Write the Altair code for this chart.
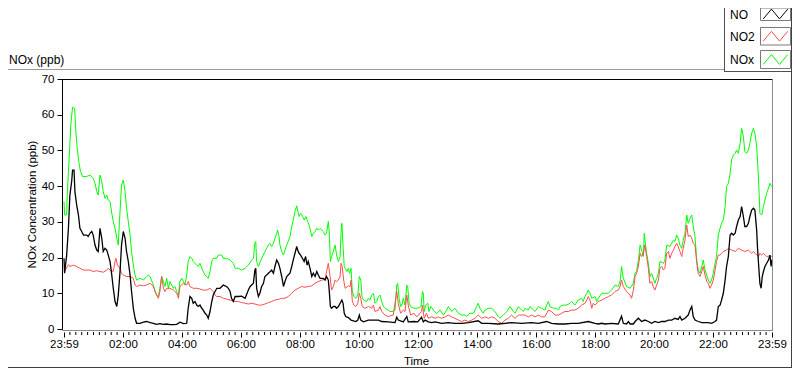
import altair as alt
import pandas as pd

# ---------------- data (hours after the 23:59 start, ppb) ----------------
series_names = ["NO", "NO2", "NOx"]
series_colors = ["#000000", "#ff4d4d", "#00ff00"]

no_pts = [
    (0.00, 19.8), (0.02, 15.6), (0.09, 20.7), (0.15, 28.2), (0.20, 37.5), (0.26, 41.3), (0.29, 44.5),
    (0.34, 44.5), (0.37, 38.5), (0.43, 34.7), (0.49, 31.9), (0.54, 28.2), (0.60, 27.3), (0.66, 26.3),
    (0.77, 26.3), (0.82, 25.9), (0.88, 26.8), (0.94, 27.3), (0.99, 26.3), (1.05, 23.5), (1.11, 22.1),
    (1.16, 21.7), (1.22, 28.2), (1.28, 25.4), (1.33, 21.7), (1.39, 22.6), (1.45, 22.1), (1.50, 20.7),
    (1.56, 18.9), (1.62, 15.1), (1.67, 11.4), (1.73, 7.7), (1.79, 6.3), (1.84, 9.5), (1.90, 16.1),
    (1.95, 23.5), (2.01, 27.3), (2.07, 25.4), (2.12, 21.7), (2.18, 18.9), (2.24, 15.1), (2.29, 10.5),
    (2.35, 5.8), (2.41, 3.0), (2.46, 1.6), (2.58, 1.6), (2.69, 1.9), (2.80, 2.1), (2.92, 1.8),
    (3.03, 1.6), (3.14, 1.3), (3.25, 1.5), (3.37, 1.3), (3.48, 1.4), (3.59, 1.2), (3.71, 1.2),
    (3.82, 1.3), (3.93, 1.9), (4.05, 1.5), (4.16, 1.6), (4.21, 5.8), (4.27, 9.1), (4.33, 8.6),
    (4.38, 7.2), (4.44, 7.7), (4.50, 6.7), (4.55, 6.3), (4.61, 6.7), (4.67, 5.8), (4.72, 5.3),
    (4.78, 4.4), (4.84, 3.9), (4.89, 3.0), (4.95, 4.9), (5.01, 7.7), (5.06, 9.5), (5.12, 10.5),
    (5.18, 11.4), (5.29, 11.4), (5.40, 12.3), (5.51, 11.9), (5.57, 11.4), (5.63, 10.5), (5.68, 8.6),
    (5.74, 7.7), (5.80, 9.1), (5.91, 9.1), (6.02, 9.2), (6.14, 8.6), (6.25, 10.9), (6.31, 11.9),
    (6.42, 12.8), (6.47, 16.5), (6.50, 17.0), (6.53, 11.4), (6.59, 9.1), (6.64, 10.0), (6.70, 11.9),
    (6.76, 12.8), (6.81, 14.7), (6.87, 15.1), (6.93, 15.6), (7.04, 16.5), (7.10, 15.6), (7.15, 17.5),
    (7.21, 19.3), (7.27, 18.4), (7.32, 17.0), (7.38, 14.7), (7.44, 11.9), (7.49, 13.3), (7.55, 14.7),
    (7.60, 15.1), (7.66, 15.6), (7.72, 17.5), (7.77, 19.3), (7.83, 21.2), (7.89, 23.1), (7.92, 22.1),
    (7.97, 21.2), (8.02, 20.7), (8.08, 19.8), (8.14, 18.9), (8.19, 20.3), (8.24, 17.9), (8.28, 18.9),
    (8.34, 17.0), (8.40, 14.7), (8.45, 15.6), (8.51, 14.7), (8.57, 16.1), (8.62, 15.1), (8.68, 14.2),
    (8.79, 14.2), (8.85, 13.7), (8.90, 14.7), (8.96, 13.7), (8.99, 10.9), (9.03, 6.3), (9.07, 5.8),
    (9.13, 6.3), (9.19, 6.3), (9.24, 5.8), (9.30, 6.3), (9.36, 7.2), (9.42, 8.1), (9.46, 7.2),
    (9.50, 4.4), (9.55, 3.5), (9.64, 3.2), (9.73, 2.5), (9.89, 2.1), (9.96, 2.5), (10.01, 3.9),
    (10.06, 2.5), (10.15, 2.0), (10.32, 2.5), (10.49, 2.5), (10.66, 2.5), (10.77, 2.1), (10.99, 2.0),
    (11.22, 1.8), (11.28, 3.3), (11.33, 2.5), (11.50, 2.0), (11.62, 3.5), (11.67, 2.0), (11.86, 2.1),
    (11.99, 2.0), (12.12, 3.3), (12.18, 2.0), (12.24, 2.5), (12.35, 2.0), (12.46, 1.8), (12.58, 2.0),
    (12.69, 1.8), (12.80, 1.6), (13.03, 1.8), (13.25, 1.6), (13.48, 1.6), (13.71, 1.8), (14.04, 2.3),
    (14.16, 1.6), (14.38, 1.6), (14.72, 1.4), (14.95, 1.6), (15.17, 1.8), (15.51, 1.6), (15.85, 1.8),
    (16.08, 1.6), (16.36, 2.1), (16.53, 1.6), (16.76, 1.4), (16.98, 1.4), (17.21, 1.6), (17.43, 1.6),
    (17.77, 2.1), (18.00, 1.6), (18.11, 1.4), (18.23, 1.6), (18.34, 1.4), (18.56, 1.6), (18.79, 1.4),
    (18.90, 3.6), (18.96, 1.6), (19.07, 1.4), (19.13, 2.1), (19.19, 1.4), (19.30, 1.4), (19.36, 2.1),
    (19.47, 3.0), (19.53, 2.5), (19.58, 2.1), (19.69, 2.5), (19.81, 2.1), (19.92, 1.6), (20.03, 2.1),
    (20.15, 1.8), (20.26, 2.1), (20.37, 2.1), (20.49, 2.5), (20.60, 2.5), (20.71, 3.0), (20.82, 2.7),
    (20.88, 3.5), (20.94, 2.5), (21.05, 3.0), (21.16, 3.9), (21.22, 5.3), (21.28, 6.3), (21.33, 3.5),
    (21.39, 2.5), (21.50, 2.1), (21.62, 1.8), (21.84, 1.8), (21.95, 1.6), (22.07, 2.1), (22.12, 2.5),
    (22.18, 6.3), (22.24, 6.7), (22.29, 8.1), (22.35, 10.0), (22.41, 13.7), (22.46, 17.5), (22.52, 20.3),
    (22.58, 26.3), (22.63, 26.8), (22.69, 26.3), (22.75, 26.8), (22.80, 28.7), (22.86, 30.5), (22.92, 31.5),
    (22.97, 34.3), (23.03, 31.5), (23.08, 28.7), (23.14, 28.7), (23.20, 29.6), (23.25, 31.5), (23.31, 33.3),
    (23.37, 33.8), (23.42, 33.3), (23.48, 27.7), (23.51, 22.6), (23.55, 17.5), (23.59, 12.8), (23.63, 11.4),
    (23.67, 14.7), (23.71, 16.1), (23.76, 17.5), (23.82, 18.4), (23.88, 19.3), (23.93, 20.7), (23.97, 17.5),
    (23.99, 19.4),
]

no2_pts = [
    (0.00, 16.1), (0.03, 16.3), (0.15, 18.0), (0.20, 17.5), (0.32, 17.9), (0.43, 17.5), (0.54, 17.0),
    (0.66, 16.5), (0.77, 16.5), (0.88, 16.5), (0.99, 16.1), (1.11, 16.3), (1.22, 16.1), (1.33, 15.9),
    (1.45, 16.5), (1.50, 17.0), (1.56, 16.5), (1.67, 16.1), (1.73, 18.9), (1.76, 19.8), (1.81, 17.9),
    (1.90, 17.0), (1.95, 15.6), (2.01, 15.1), (2.12, 14.7), (2.24, 14.7), (2.35, 14.2), (2.41, 12.3),
    (2.46, 11.9), (2.58, 12.3), (2.69, 12.1), (2.80, 12.3), (2.92, 12.8), (3.03, 11.9), (3.14, 9.5),
    (3.20, 8.6), (3.25, 10.5), (3.31, 14.7), (3.37, 11.4), (3.42, 10.5), (3.48, 11.4), (3.59, 11.4),
    (3.71, 10.9), (3.82, 10.0), (3.88, 8.6), (3.93, 11.9), (4.05, 12.8), (4.16, 12.3), (4.21, 13.3),
    (4.27, 11.9), (4.38, 11.4), (4.50, 11.4), (4.61, 11.2), (4.72, 10.9), (4.84, 10.9), (4.95, 11.4),
    (5.06, 10.5), (5.12, 9.5), (5.18, 9.1), (5.29, 9.1), (5.40, 8.6), (5.51, 8.4), (5.63, 8.1),
    (5.74, 7.8), (5.80, 7.7), (5.91, 7.7), (6.02, 7.4), (6.14, 7.2), (6.25, 7.0), (6.36, 7.2),
    (6.47, 7.0), (6.59, 6.7), (6.70, 6.7), (6.81, 7.0), (6.93, 7.4), (7.04, 7.7), (7.15, 8.1),
    (7.27, 8.3), (7.38, 8.6), (7.49, 8.6), (7.60, 9.1), (7.72, 10.0), (7.83, 10.9), (7.94, 11.4),
    (8.06, 11.9), (8.17, 11.7), (8.28, 11.9), (8.40, 12.1), (8.51, 12.8), (8.62, 13.3), (8.74, 13.7),
    (8.85, 13.9), (8.90, 16.1), (8.96, 18.4), (9.02, 14.7), (9.07, 10.9), (9.13, 11.9), (9.19, 13.7),
    (9.24, 13.3), (9.30, 13.7), (9.36, 14.7), (9.39, 18.4), (9.43, 17.5), (9.48, 13.7), (9.53, 11.4),
    (9.64, 12.1), (9.70, 11.9), (9.73, 13.7), (9.77, 8.1), (9.82, 6.7), (9.89, 6.3), (9.96, 7.2),
    (10.01, 10.0), (10.06, 8.6), (10.11, 6.3), (10.20, 5.8), (10.32, 6.3), (10.43, 5.8), (10.49, 6.7),
    (10.54, 4.9), (10.66, 5.3), (10.71, 6.3), (10.77, 4.9), (10.88, 3.9), (10.99, 3.5), (11.16, 3.9),
    (11.28, 10.5), (11.33, 7.2), (11.41, 4.4), (11.50, 5.3), (11.56, 4.9), (11.62, 9.5), (11.67, 6.7),
    (11.75, 3.9), (11.86, 4.4), (11.96, 3.4), (12.12, 4.9), (12.15, 6.7), (12.21, 3.0), (12.29, 4.4),
    (12.35, 3.0), (12.46, 3.4), (12.58, 3.0), (12.69, 3.4), (12.80, 3.0), (12.92, 3.4), (13.03, 3.9),
    (13.14, 3.4), (13.25, 3.0), (13.37, 2.5), (13.48, 2.1), (13.59, 2.5), (13.71, 2.1), (13.82, 2.5),
    (13.93, 3.0), (14.04, 3.9), (14.16, 3.0), (14.27, 3.4), (14.38, 3.0), (14.50, 3.4), (14.61, 3.0),
    (14.72, 2.1), (14.84, 1.6), (14.95, 2.5), (15.06, 3.0), (15.17, 3.9), (15.29, 3.0), (15.40, 3.9),
    (15.51, 3.9), (15.63, 3.9), (15.74, 3.4), (15.85, 3.9), (15.97, 3.4), (16.08, 3.9), (16.19, 3.4),
    (16.30, 3.4), (16.42, 5.3), (16.53, 4.9), (16.64, 3.9), (16.76, 3.9), (16.87, 4.4), (16.98, 4.9),
    (17.09, 4.9), (17.21, 5.3), (17.32, 5.3), (17.43, 5.8), (17.55, 6.7), (17.66, 7.2), (17.72, 8.1),
    (17.77, 9.1), (17.83, 8.1), (17.89, 5.8), (17.94, 7.2), (18.00, 6.7), (18.11, 7.7), (18.23, 8.1),
    (18.34, 8.6), (18.45, 9.1), (18.56, 9.5), (18.68, 10.5), (18.79, 10.9), (18.85, 11.9), (18.90, 13.7),
    (18.96, 11.9), (19.07, 10.5), (19.19, 9.5), (19.24, 8.6), (19.30, 10.9), (19.36, 14.7), (19.41, 15.6),
    (19.47, 17.5), (19.53, 21.2), (19.58, 20.3), (19.64, 21.2), (19.69, 23.5), (19.75, 20.3), (19.81, 17.0),
    (19.86, 12.8), (19.92, 13.3), (19.97, 11.9), (20.03, 10.9), (20.09, 12.3), (20.15, 13.7), (20.20, 17.0),
    (20.26, 17.5), (20.32, 16.5), (20.37, 17.0), (20.43, 21.2), (20.49, 21.7), (20.54, 19.8), (20.60, 21.2),
    (20.66, 22.1), (20.71, 23.1), (20.77, 24.0), (20.82, 23.1), (20.88, 21.7), (20.94, 20.3), (20.99, 22.6),
    (21.05, 24.9), (21.11, 29.1), (21.16, 25.9), (21.22, 26.3), (21.28, 25.4), (21.33, 24.0), (21.39, 23.5),
    (21.45, 18.4), (21.50, 15.6), (21.56, 14.7), (21.62, 16.1), (21.67, 17.5), (21.73, 15.1), (21.79, 13.3),
    (21.84, 12.8), (21.90, 11.4), (21.95, 12.3), (22.01, 13.7), (22.07, 16.5), (22.12, 18.9), (22.18, 20.7),
    (22.24, 20.7), (22.29, 21.2), (22.35, 21.7), (22.46, 22.1), (22.52, 22.6), (22.63, 22.1), (22.75, 21.7),
    (22.86, 22.6), (22.97, 22.1), (23.08, 21.7), (23.20, 22.1), (23.31, 21.2), (23.37, 21.7), (23.48, 20.7),
    (23.54, 20.3), (23.59, 21.2), (23.65, 20.7), (23.71, 21.2), (23.82, 20.3), (23.93, 20.5), (23.99, 20.3),
]

nox_pts = [
    (0.00, 35.7), (0.02, 31.9), (0.09, 31.9), (0.11, 37.5), (0.18, 48.7), (0.23, 57.1), (0.29, 62.1),
    (0.36, 61.8), (0.41, 54.3), (0.45, 50.6), (0.50, 46.9), (0.56, 44.1), (0.63, 42.7), (0.77, 42.7),
    (0.88, 43.1), (0.99, 42.2), (1.05, 40.8), (1.11, 38.5), (1.16, 37.5), (1.22, 43.1), (1.28, 41.3),
    (1.33, 38.5), (1.39, 36.6), (1.45, 37.5), (1.50, 36.1), (1.56, 35.7), (1.62, 32.4), (1.67, 30.1),
    (1.73, 28.2), (1.79, 25.4), (1.84, 23.5), (1.88, 30.1), (1.95, 40.3), (2.01, 41.7), (2.07, 38.5),
    (2.12, 33.8), (2.18, 30.1), (2.24, 26.3), (2.29, 21.7), (2.35, 17.9), (2.41, 15.1), (2.46, 13.7),
    (2.58, 14.2), (2.69, 13.7), (2.80, 14.7), (2.86, 15.1), (2.92, 14.7), (3.03, 12.3), (3.08, 10.5),
    (3.14, 9.5), (3.20, 9.1), (3.25, 11.4), (3.31, 14.7), (3.37, 13.3), (3.42, 11.9), (3.48, 14.2),
    (3.54, 11.4), (3.59, 13.3), (3.65, 12.3), (3.71, 11.4), (3.76, 11.9), (3.82, 10.5), (3.88, 9.5),
    (3.93, 13.3), (3.99, 14.2), (4.05, 13.3), (4.10, 12.3), (4.16, 15.1), (4.21, 18.9), (4.27, 20.3),
    (4.33, 19.8), (4.38, 18.9), (4.44, 18.4), (4.50, 17.9), (4.55, 17.5), (4.61, 18.4), (4.67, 17.0),
    (4.72, 16.1), (4.78, 15.1), (4.84, 14.7), (4.89, 14.2), (4.95, 16.1), (5.01, 18.9), (5.06, 19.8),
    (5.18, 19.8), (5.23, 20.7), (5.34, 20.7), (5.40, 19.8), (5.51, 19.8), (5.63, 19.3), (5.74, 18.4),
    (5.80, 17.0), (5.91, 17.0), (6.02, 16.5), (6.14, 17.0), (6.25, 17.9), (6.36, 19.3), (6.42, 19.8),
    (6.47, 24.0), (6.50, 24.5), (6.53, 18.9), (6.59, 17.5), (6.70, 19.8), (6.81, 21.7), (6.93, 23.5),
    (6.98, 24.0), (7.04, 23.1), (7.10, 24.0), (7.15, 25.4), (7.21, 26.8), (7.24, 27.7), (7.29, 25.9),
    (7.32, 23.5), (7.38, 21.7), (7.44, 20.7), (7.49, 22.1), (7.55, 23.5), (7.60, 24.5), (7.66, 25.9),
    (7.72, 28.7), (7.77, 30.5), (7.83, 32.9), (7.89, 34.5), (7.92, 33.3), (7.97, 31.5), (8.02, 32.4),
    (8.09, 31.5), (8.15, 30.5), (8.20, 31.5), (8.26, 30.1), (8.31, 29.1), (8.35, 27.7), (8.40, 25.9),
    (8.45, 26.8), (8.51, 27.3), (8.57, 28.2), (8.62, 27.7), (8.68, 28.2), (8.79, 27.3), (8.85, 26.3),
    (8.90, 26.8), (8.96, 30.1), (8.99, 27.3), (9.03, 18.9), (9.07, 20.3), (9.13, 21.7), (9.19, 23.5),
    (9.24, 20.7), (9.30, 18.9), (9.36, 20.3), (9.39, 26.8), (9.42, 29.6), (9.46, 23.1), (9.50, 17.5),
    (9.59, 16.1), (9.64, 17.0), (9.68, 15.6), (9.73, 17.0), (9.77, 10.9), (9.82, 9.1), (9.89, 8.6),
    (9.96, 9.5), (10.01, 14.7), (10.06, 13.7), (10.10, 9.1), (10.15, 8.1), (10.26, 7.7), (10.32, 8.6),
    (10.37, 8.1), (10.43, 9.5), (10.49, 10.0), (10.54, 7.2), (10.60, 7.7), (10.66, 9.1), (10.71, 9.5),
    (10.77, 7.7), (10.83, 6.3), (10.88, 5.8), (10.99, 5.3), (11.05, 4.9), (11.16, 4.9), (11.22, 5.3),
    (11.28, 12.3), (11.31, 12.8), (11.36, 8.6), (11.41, 6.3), (11.47, 7.2), (11.50, 8.6), (11.56, 6.7),
    (11.62, 12.3), (11.65, 11.9), (11.70, 7.2), (11.75, 6.3), (11.86, 5.8), (11.99, 5.8), (12.10, 6.3),
    (12.15, 10.5), (12.18, 10.0), (12.21, 4.9), (12.26, 6.7), (12.33, 7.2), (12.37, 4.9), (12.44, 6.3),
    (12.52, 5.3), (12.63, 4.4), (12.75, 5.3), (12.86, 3.9), (12.97, 5.3), (13.03, 6.3), (13.14, 4.9),
    (13.25, 5.8), (13.37, 4.4), (13.48, 3.9), (13.59, 3.9), (13.65, 3.5), (13.76, 4.4), (13.88, 4.4),
    (13.99, 6.3), (14.04, 7.2), (14.10, 5.8), (14.21, 4.4), (14.27, 5.3), (14.38, 5.8), (14.50, 5.8),
    (14.61, 4.9), (14.72, 3.5), (14.78, 3.0), (14.89, 3.9), (15.01, 4.9), (15.12, 6.3), (15.23, 4.9),
    (15.29, 4.4), (15.40, 6.3), (15.51, 5.3), (15.57, 4.9), (15.63, 5.8), (15.74, 5.3), (15.80, 6.3),
    (15.91, 5.3), (15.97, 4.9), (16.08, 6.3), (16.19, 5.8), (16.30, 5.3), (16.36, 6.7), (16.42, 7.7),
    (16.47, 6.3), (16.59, 5.8), (16.70, 5.8), (16.76, 5.3), (16.81, 6.3), (16.93, 6.7), (17.04, 6.7),
    (17.15, 7.2), (17.21, 7.7), (17.32, 6.7), (17.43, 8.1), (17.55, 8.6), (17.60, 7.7), (17.66, 9.1),
    (17.72, 10.0), (17.77, 10.9), (17.83, 10.0), (17.89, 8.6), (18.00, 9.1), (18.06, 7.7), (18.11, 8.6),
    (18.23, 10.0), (18.34, 10.0), (18.45, 10.0), (18.56, 10.9), (18.68, 12.3), (18.79, 11.9), (18.85, 13.3),
    (18.90, 17.5), (18.96, 14.2), (19.07, 11.9), (19.19, 11.4), (19.30, 12.8), (19.36, 15.6), (19.41, 16.1),
    (19.47, 19.3), (19.53, 23.5), (19.58, 22.1), (19.64, 20.3), (19.67, 26.8), (19.72, 23.1), (19.75, 21.2),
    (19.81, 18.4), (19.86, 14.7), (19.92, 15.6), (20.03, 12.8), (20.09, 14.2), (20.15, 15.6), (20.20, 18.9),
    (20.32, 18.4), (20.37, 19.3), (20.43, 23.5), (20.54, 23.1), (20.66, 24.9), (20.71, 24.5), (20.77, 26.3),
    (20.82, 25.4), (20.88, 23.5), (20.94, 22.6), (20.99, 24.9), (21.05, 26.8), (21.11, 31.9), (21.16, 29.6),
    (21.22, 31.0), (21.28, 31.9), (21.33, 28.7), (21.39, 25.9), (21.45, 19.3), (21.50, 16.5), (21.56, 15.6),
    (21.62, 17.5), (21.67, 19.3), (21.73, 16.5), (21.84, 13.7), (21.90, 12.8), (21.95, 13.7), (22.01, 15.6),
    (22.07, 18.4), (22.12, 20.3), (22.18, 26.3), (22.24, 28.2), (22.29, 29.6), (22.35, 30.5), (22.41, 34.3),
    (22.46, 39.9), (22.52, 40.8), (22.58, 43.6), (22.63, 47.3), (22.69, 48.7), (22.75, 49.2), (22.80, 50.1),
    (22.86, 49.2), (22.92, 52.0), (22.97, 56.2), (23.03, 53.9), (23.08, 49.7), (23.14, 49.2), (23.20, 50.1),
    (23.25, 52.0), (23.31, 54.8), (23.37, 56.2), (23.42, 54.8), (23.48, 51.1), (23.54, 42.7), (23.59, 32.4),
    (23.65, 31.9), (23.71, 34.3), (23.76, 36.1), (23.82, 38.0), (23.88, 39.4), (23.93, 40.8), (23.99, 39.9),
]

x_ticks = [0, 2, 4, 6, 8, 10, 12, 14, 16, 18, 20, 22, 24]
x_tick_labels = ["23:59", "02:00", "04:00", "06:00", "08:00", "10:00", "12:00",
                 "14:00", "16:00", "18:00", "20:00", "22:00", "23:59"]
x_minor_ticks = [round(i * 0.2, 1) for i in range(121) if i % 10 != 0]
y_ticks = [0, 10, 20, 30, 40, 50, 60, 70]

# ---------------- build tables ----------------
rows = []
for name, pts in zip(series_names, [no_pts, no2_pts, nox_pts]):
    for t, v in pts:
        rows.append({"series": name, "t": t, "v": v})
df = pd.DataFrame(rows)
minor_df = pd.DataFrame({"t": x_minor_ticks})
one = pd.DataFrame({"k": [0]})

W, H = 710, 250
FONT = "Liberation Sans"

xscale = alt.Scale(domain=[0, 24], range=[2, W], nice=False, zero=False)
yscale = alt.Scale(domain=[0, 70], nice=False, zero=True)

label_js = "[" + ",".join("'" + s + "'" for s in x_tick_labels) + "]"
xaxis = alt.Axis(values=x_ticks, labelExpr=label_js + "[round(datum.value/2)]",
                 labelFlush=False, labelOverlap=False, tickSize=5, tickColor="black",
                 domain=False, grid=False, offset=3, labelPadding=1,
                 labelFont=FONT, labelFontSize=11.5, labelColor="black",
                 title="Time", titleFont=FONT, titleFontSize=11.5, titleFontWeight="normal",
                 titleColor="black", titleBaseline="middle", titleX=354, titleY=29)
yaxis = alt.Axis(values=y_ticks, tickSize=5, tickColor="black", domainColor="black",
                 grid=False, labelPadding=3, labelFont=FONT, labelFontSize=11.5,
                 labelColor="black", title="NOx Concentration (ppb)", titleFont=FONT,
                 titleFontSize=11.5, titleFontWeight="normal", titleColor="black",
                 titleX=-30, titleY=125, titleBaseline="middle")


def series_layer(name, color, width):
    return alt.Chart(df).transform_filter(alt.datum.series == name).mark_line(
        color=color, strokeWidth=width, interpolate="linear"
    ).encode(
        x=alt.X("t:Q", scale=xscale, axis=xaxis),
        y=alt.Y("v:Q", scale=yscale, axis=yaxis),
    )


def rule(x, x2, y, y2, color):
    return alt.Chart(one).mark_rule(color=color, strokeWidth=1).encode(
        x=alt.value(x), x2=alt.value(x2), y=alt.value(y), y2=alt.value(y2))


layers = []
# plot lines: NOx underneath, NO on top
layers.append(series_layer("NOx", series_colors[2], 1))
layers.append(series_layer("NO2", series_colors[1], 1))
layers.append(series_layer("NO", series_colors[0], 1.3))

# plot-area border
layers.append(rule(0, W + 0.5, 0.5, 0.5, "black"))
layers.append(rule(W + 0.5, W + 0.5, 0, 252, "#8a8a8a"))
layers.append(rule(0, W + 0.5, 251.5, 251.5, "#8a8a8a"))

# minor ticks on the time axis (same axis definition so the shared axis is kept)
layers.append(alt.Chart(minor_df).mark_rule(color="black", strokeWidth=1).encode(
    x=alt.X("t:Q", scale=xscale, axis=xaxis), y=alt.value(253), y2=alt.value(256)))

# outer frame
LX = 662.5  # legend box left edge (view px)
layers.append(rule(-54, LX, -9.5, -9.5, "#9a9a9a"))
layers.append(rule(LX, LX, -71, -7, "#505050"))
layers.append(rule(LX, 730, -7.5, -7.5, "#505050"))
layers.append(rule(729.5, 729.5, -71, 289, "#404040"))
layers.append(rule(-54, 730, 288.5, 288.5, "#404040"))

# graph caption
layers.append(alt.Chart(one).mark_text(text="NOx (ppb)", font=FONT, fontSize=12, align="left",
                                       baseline="middle", color="black").encode(
    x=alt.value(-53), y=alt.value(-19)))

# hand-made legend
legend_text_y = [-64.3, -42.3, -19]
legend_box_y = [(-71, -58.5), (-51.5, -34), (-28.5, -10.5)]
legend_sym_y = [-65.0, -42.8, -19.5]
zigzag = "M-1,0.4L-0.33,-0.4L0.33,0.4L1,-0.4"
for name, color, ty, (b0, b1), sy in zip(series_names, series_colors, legend_text_y,
                                          legend_box_y, legend_sym_y):
    layers.append(alt.Chart(one).mark_text(text=name, font=FONT, fontSize=12, align="left",
                                           baseline="middle", color="black").encode(
        x=alt.value(LX + 5.5), y=alt.value(ty)))
    layers.append(alt.Chart(one).mark_rect(fill="white", stroke="#7a7a7a", strokeWidth=1).encode(
        x=alt.value(698.5), x2=alt.value(728.5), y=alt.value(b0), y2=alt.value(b1)))
    layers.append(alt.Chart(one).mark_point(shape=zigzag, filled=False, size=600, strokeWidth=1,
                                            color=color, opacity=1).encode(
        x=alt.value(713.5), y=alt.value(sy)))

chart = alt.layer(*layers).properties(
    width=W, height=H,
    padding={"left": 54, "top": 71, "right": 20, "bottom": 40},
    autosize=alt.AutoSizeParams(type="none"),
    background="white",
).configure_view(stroke=None)

chart.save("out.html", embed_options={"renderer": "svg", "actions": False})
